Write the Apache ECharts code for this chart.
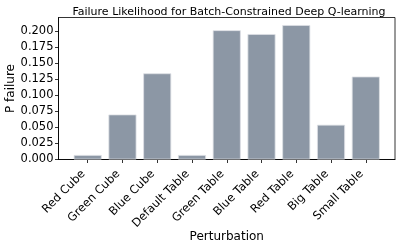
<!DOCTYPE html>
<html><head><meta charset="utf-8">
<script src="https://cdn.jsdelivr.net/npm/echarts@6/dist/echarts.min.js"></script>
<style>html,body{margin:0;padding:0;background:#fff}#c{width:399px;height:247px}</style>
</head><body><div id="c"></div>
<script>
const categories = ['Red Cube','Green Cube','Blue Cube','Default Table','Green Table','Blue Table','Red Table','Big Table','Small Table'];
const pFailure = [0.007, 0.070, 0.134, 0.007, 0.201, 0.195, 0.209, 0.054, 0.129];
const yTicks = [0, 0.025, 0.05, 0.075, 0.1, 0.125, 0.15, 0.175, 0.2];
const xTicks = categories.map((c, i) => i);

const chart = echarts.init(document.getElementById('c'), null, {renderer: 'canvas'});
const font = 'DejaVu Sans';
chart.setOption({
  animation: false,
  title: {
    text: 'Failure Likelihood for Batch-Constrained Deep Q-learning',
    left: 224, top: 2, textAlign: 'center',
    textStyle: {fontFamily: font, fontSize: 11, fontWeight: 'normal', color: '#000'}
  },
  grid: {left: 58.5, right: 4, top: 17.5, bottom: 87.5, containLabel: false, outerBoundsMode: 'none',
    show: true, borderColor: '#000', borderWidth: 0.8},
  xAxis: {
    type: 'value', min: -0.84, max: 8.84,
    name: 'Perturbation', nameLocation: 'middle', nameGap: 71, nameMoveOverlap: false,
    nameTextStyle: {fontFamily: font, fontSize: 12, color: '#000'},
    axisLine: {show: true, onZero: false, lineStyle: {color: '#000', width: 0.8}},
    axisTick: {show: true, customValues: xTicks, length: 3.5, lineStyle: {color: '#000', width: 0.8}},
    axisLabel: {customValues: xTicks, rotate: 45, margin: 17, verticalAlign: 'bottom', fontFamily: font, fontSize: 11.5, color: '#000',
      formatter: v => categories[Math.round(v)]},
    splitLine: {show: false}
  },
  yAxis: {
    type: 'value', min: 0, max: 0.2208,
    name: 'P failure', nameLocation: 'middle', nameGap: 42, nameMoveOverlap: false,
    nameTextStyle: {fontFamily: font, fontSize: 12, color: '#000'},
    axisLine: {show: true, onZero: false, lineStyle: {color: '#000', width: 0.8}},
    axisTick: {show: true, customValues: yTicks, length: 3.5, lineStyle: {color: '#000', width: 0.8}},
    axisLabel: {customValues: yTicks, margin: 5, fontFamily: font, fontSize: 11.5, color: '#000',
      formatter: v => v.toFixed(3)},
    splitLine: {show: false}
  },
  series: [{
    type: 'bar',
    data: pFailure.map((v, i) => [i, v]),
    barWidth: 28,
    itemStyle: {color: '#8c97a5', borderColor: '#dde0e4', borderWidth: 0.8}
  }]
});
</script></body></html>
